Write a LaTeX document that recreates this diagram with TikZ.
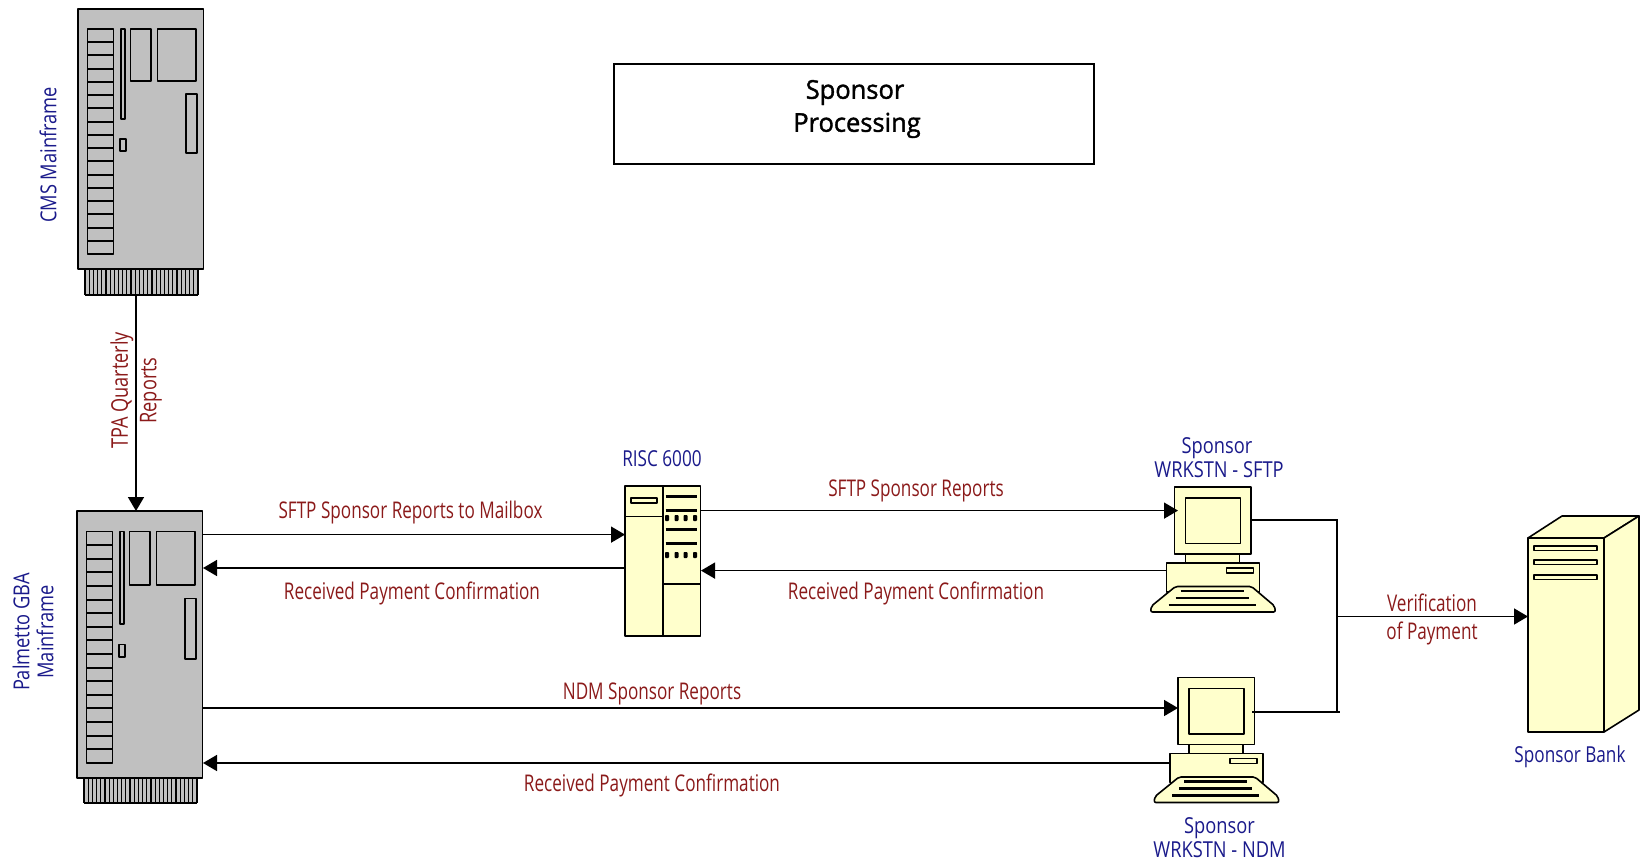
\documentclass[tikz,border=0pt]{standalone}
\usepackage{fontspec}
\setmainfont{Open Sans}
\newfontfamily\lblfont[FakeStretch=0.745]{Open Sans}
\newfontfamily\bluefont[FakeStretch=0.83]{Open Sans}
\newfontfamily\bluefontb[FakeStretch=0.78]{Open Sans}
\newfontfamily\rotfont[FakeStretch=0.79]{Open Sans}
\newfontfamily\titlefont[FakeStretch=0.98,FakeBold=1.5]{Open Sans}
\usetikzlibrary{arrows.meta}
\definecolor{cream}{HTML}{FFFFCC}
\definecolor{lblred}{HTML}{8B1A1A}
\definecolor{lblblue}{HTML}{1A1A8B}
\definecolor{greybody}{HTML}{C0C0C0}
\tikzset{
  part/.style={draw=black,line width=1.6pt,line join=round},
  conn/.style={draw=black,line width=1.6pt},
  arr/.style={conn,-{Triangle[length=14pt,width=16pt]}},
  redlbl/.style={text=lblred,font=\lblfont\fontsize{23}{27}\selectfont,inner sep=0pt,align=center},
  rotlbl/.style={text=lblred,font=\rotfont\fontsize{23}{27}\selectfont,inner sep=0pt,align=center,rotate=90},
  bluelbl/.style={text=lblblue,font=\bluefont\fontsize{22}{24}\selectfont,inner sep=0pt,align=center},
  bluelblb/.style={text=lblblue,font=\bluefontb\fontsize{22}{24}\selectfont,inner sep=0pt,align=center},
}
\newcommand{\mainframe}[6]{% name, x, y, xscale, yscale, fin height
\begin{scope}[shift={(#2,#3)},xscale=#4,yscale=#5]
  \fill[greybody] (7,260) rectangle (120,260+#6);
  \foreach \i in {0,...,27}{\draw[black,line width=1.2pt] ({7+\i*113/27},260) -- ++(0,#6);}
  \draw[black,line width=1.5pt] (7,260+#6) -- (120,260+#6);
  \path[part,fill=greybody] (0,0) rectangle (125.5,260);
  \path[part,fill=greybody] (9.5,20) rectangle (35.5,245);
  \foreach \i in {1,...,16}{\draw[black,line width=2pt] (9,{20+\i*225/17}) -- (36,{20+\i*225/17});}
  \path[part] (42.7,20) rectangle (47,110);
  \path[part] (52.5,20) rectangle (73,72);
  \path[part] (79.5,20) rectangle (118,72);
  \path[part] (108,85) rectangle (119,144);
  \path[part] (42,130) rectangle (48,142);
\end{scope}}
\newcommand{\wrkstn}[3]{% name,x,y (monitor top-left)
\begin{scope}[shift={(#2,#3)}]
  \path[part,fill=cream] (11,67) rectangle (65,76);
  \path[part,fill=cream] (-8,76) rectangle (85,105);
  \path[part] (52,81) rectangle (79,86);
  \path[part,fill=cream] (0,0) rectangle (76.5,67);
  \path[part] (11,11) rectangle (66,56.5);
  \path[part,fill=cream,rounded corners=2pt] (1,99.5) -- (77,99.5) -- (100,119) -- (101,125) -- (-24,125) -- (-23,119) -- cycle;
  \foreach \y/\a in {104/7,111/2,118/-5}{\path[draw=black,line width=2.4pt] (\a-1,\y) -- (76-\a,\y);}
\end{scope}}
\begin{document}
\begin{tikzpicture}[x=1pt,y=-1pt]
\useasboundingbox (0,0) rectangle (1644,864);
\fill[white] (0,0) rectangle (1644,864);
\mainframe{cms}{78}{9}{1}{1}{26}
\mainframe{gba}{77}{511}{1}{1.028}{24}
% RISC
\begin{scope}[shift={(625,486)}]
  \path[part,fill=cream] (0,0) rectangle (38,150);
  \path[part,fill=cream] (38,0) rectangle (75.5,150);
  \draw[black,line width=1.6pt] (0,30.5) -- (38,30.5);
  \draw[black,line width=1.6pt] (38,98) -- (75.5,98);
  \draw[black,line width=2pt] (38,0) -- (38,150);
  \path[part] (6,12) rectangle (32,17);
  \foreach \y in {10,24,43,57}{\draw[black,line width=3pt] (40.5,\y) -- (72,\y);}
  \foreach \y in {32,69}{\foreach \x in {42,51.5,60.5,70}{\fill[black,rounded corners=.8pt] (\x-2,\y-3) rectangle (\x+2,\y+3);}}
\end{scope}
\wrkstn{wa}{1174.5}{487}
\wrkstn{wb}{1178}{677.5}
% bank
\path[part,fill=cream] (1528,538) -- (1562,516) -- (1639,516) -- (1604,538) -- cycle;
\path[part,fill=cream] (1604,538) -- (1639,516) -- (1639,710) -- (1604,732) -- cycle;
\path[part,fill=cream] (1528,538) rectangle (1604,732);
\foreach \y in {546,560,575}{\path[part] (1534,\y) rectangle (1597,\y+4.5);}
% title
\node[draw=black,line width=1.6pt,fill=white,minimum width=480pt,minimum height=100pt,inner sep=0pt] (title) at (854,114) {};
\node[font=\titlefont\fontsize{26}{33}\selectfont,inner sep=0pt,align=center] (titletxt) at (855,109) {Sponsor\\\hspace*{4pt}Processing};
% named connector points
\coordinate (cmsB) at (136,295);
\coordinate (gbaT) at (136,511);
\coordinate (g1) at (203,534.6); \coordinate (r1) at (625,534.6);
\coordinate (r2) at (625,568); \coordinate (g2) at (203,568);
\coordinate (r3) at (701,510.6); \coordinate (wa1) at (1178,510.6);
\coordinate (wa2) at (1166,570.6); \coordinate (r4) at (701,570.6);
\coordinate (g3) at (203,708); \coordinate (wb1) at (1178,708);
\coordinate (wb2) at (1170,763); \coordinate (g4) at (203,763);
\coordinate (wa3) at (1250,520); \coordinate (j1) at (1337,520);
\coordinate (wb3) at (1252,712); \coordinate (j2) at (1340,712);
\coordinate (j3) at (1337,616.5); \coordinate (bank) at (1528,616.5);
\draw[arr] (cmsB) -- (gbaT);
\draw[arr] (g1) -- (r1);
\draw[arr] (r2) -- (g2);
\draw[arr] (r3) -- (wa1);
\draw[arr] (wa2) -- (r4);
\draw[arr] (g3) -- (wb1);
\draw[arr] (wb2) -- (g4);
\draw[conn] (wa3) -- (j1) -- (1337,712);
\draw[conn] (wb3) -- (j2);
\draw[arr] (j3) -- (bank);
% labels
\node[rotlbl] (l0) at (122,390.5) {TPA Quarterly};
\node[rotlbl] (l00) at (151,390.5) {Reports};
\node[redlbl] (l1) at (410.5,512.5) {SFTP Sponsor Reports to Mailbox};
\node[redlbl] (l2) at (412,593) {Received Payment Confirmation};
\node[redlbl] (l3) at (916,490.5) {SFTP Sponsor Reports};
\node[redlbl] (l4) at (916,593) {Received Payment Confirmation};
\node[redlbl] (l5) at (652,693.5) {NDM Sponsor Reports};
\node[redlbl] (l6) at (652,785) {Received Payment Confirmation};
\node[redlbl] (l7) at (1432,603) {Verification};
\node[redlbl] (l8) at (1432,633) {of Payment};
\node[bluelbl,rotate=90] (b1) at (48,155) {CMS Mainframe};
\node[bluelbl,rotate=90,align=center] (b2) at (33,632) {Palmetto GBA\\Mainframe};
\node[bluelblb] (b3) at (662,459) {RISC 6000};
\node[bluelbl] (b4) at (1219,458) {\hspace*{-4pt}Sponsor\\WRKSTN - SFTP};
\node[bluelbl] (b5) at (1219.5,838) {Sponsor\\WRKSTN - NDM};
\node[bluelblb] (b6) at (1570,757) {Sponsor Bank};
\end{tikzpicture}
\end{document}
